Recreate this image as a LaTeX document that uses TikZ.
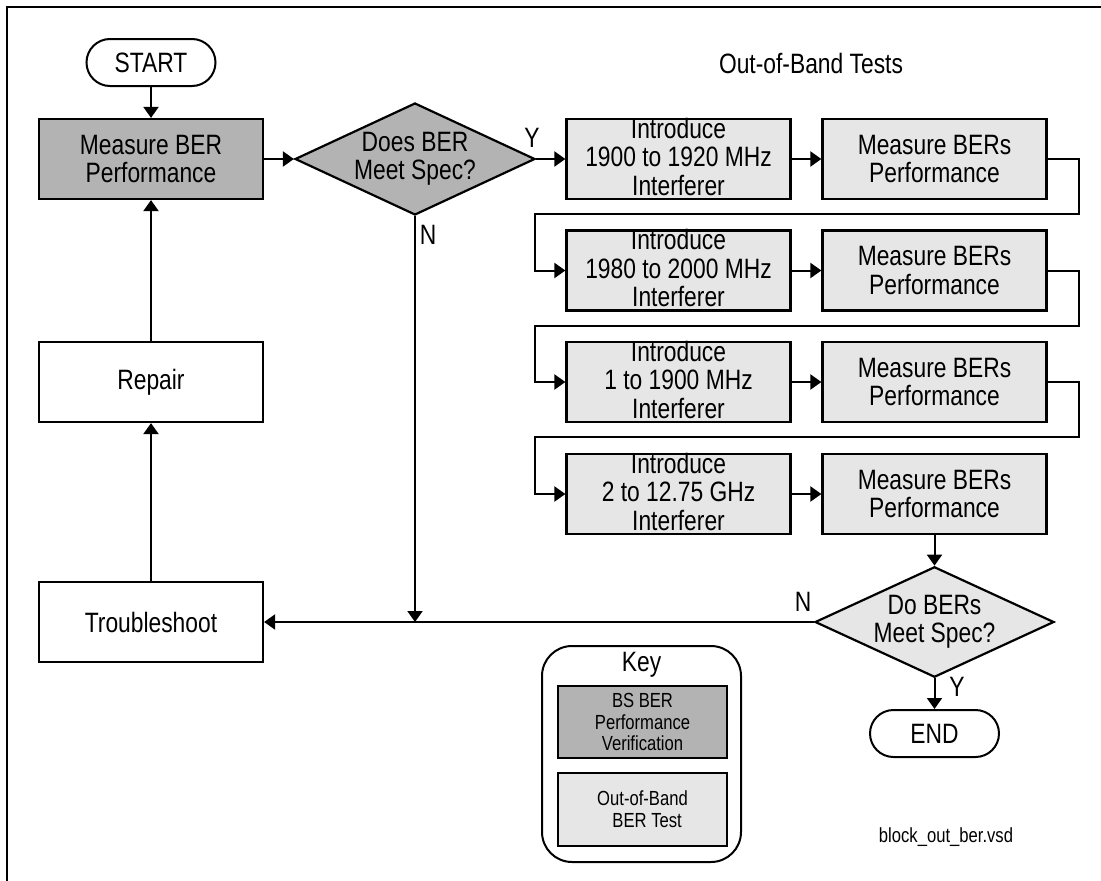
\documentclass[tikz,border=0pt]{standalone}
\usepackage{fontspec}
\setmainfont{Liberation Sans}[FakeStretch=0.815]
\usetikzlibrary{arrows.meta,shapes.geometric,shapes.misc}
\definecolor{darkfill}{RGB}{179,179,179}
\definecolor{lightfill}{RGB}{230,230,230}
\begin{document}
\begin{tikzpicture}[x=1pt,y=-1pt,
  every node/.style={font=\fontsize{28}{28.5}\selectfont, align=center, inner sep=0pt},
  box/.style={draw, line width=2.2pt, minimum width=224pt, minimum height=80pt},
  darkbox/.style={box, fill=darkfill},
  lightbox/.style={box, fill=lightfill, minimum width=224pt},
  plainbox/.style={box, fill=white},
  term/.style={draw, line width=2pt, rounded rectangle, minimum width=129pt, minimum height=47pt},
  dec/.style={draw, line width=2.2pt, diamond, minimum width=240pt, minimum height=112pt, aspect=2.14},
  conn/.style={line width=2pt},
  arr/.style={conn, -{Triangle[length=11pt,width=15pt]}},
  small/.style={font=\fontsize{20.4}{21.7}\selectfont},
  keybox/.style={draw, line width=2pt, minimum width=169pt, minimum height=72pt, small},
]
\useasboundingbox (0,0) rectangle (1101,881);
% frame
\draw[conn] (7,881) -- (7,7) -- (1101,7);

% left column
\node[term] (start) at (151,62.5) {START};
\node[darkbox] (mb) at (151,159) {Measure BER\\Performance};
\node[dec, fill=darkfill] (d1) at (415,159) {Does BER\\Meet Spec?};
\node[plainbox] (rep) at (151,382) {Repair};
\node[plainbox] (tro) at (151,622) {Troubleshoot};

% title
\node (title) at (811,63) {Out-of-Band Tests};

% out-of-band rows
\node[lightbox] (i1) at (678.5,159) {};
\node (i1t) at (678.5,156.5) {Introduce\\1900 to 1920 MHz\\Interferer};
\node[lightbox] (m1) at (934.5,159) {Measure BERs\\Performance};

\node[lightbox] (i2) at (678.5,270.5) {};
\node (i2t) at (678.5,268) {Introduce\\1980 to 2000 MHz\\Interferer};
\node[lightbox] (m2) at (934.5,270.5) {Measure BERs\\Performance};

\node[lightbox] (i3) at (678.5,382) {};
\node (i3t) at (678.5,379.5) {Introduce\\1 to 1900 MHz\\Interferer};
\node[lightbox] (m3) at (934.5,382) {Measure BERs\\Performance};

\node[lightbox] (i4) at (678.5,494) {};
\node (i4t) at (678.5,491.5) {Introduce\\2 to 12.75 GHz\\Interferer};
\node[lightbox] (m4) at (934.5,494) {Measure BERs\\Performance};

\node[dec, fill=lightfill, minimum width=239pt, minimum height=110pt] (d2) at (934.5,622) {Do BERs\\Meet Spec?};
\node[term] (end) at (934.5,733.5) {END};

% labels
\node (ly1) at (532,138) {Y};
\node (ln1) at (428,235) {N};
\node (ln2) at (803,602) {N};
\node (ly2) at (957,687) {Y};

% key
\node[draw, line width=2pt, rounded corners=30pt, minimum width=199pt, minimum height=216pt] (key) at (641.5,754) {};
\node (keyt) at (641.5,665) {Key};
\node[keybox, fill=darkfill] (k1) at (642.5,722) {BS BER\\Performance\\Verification};
\node[keybox, fill=lightfill, minimum height=73pt] (k2) at (642.5,809.5) {Out-of-Band\\\ \ BER Test};
\node[small] (file) at (946,837) {block\_out\_ber.vsd};

% connectors
\draw[arr] (start.south) -- (mb.north);
\draw[arr] (mb.east) -- (d1.west);
\draw[arr] (d1.east) -- (i1.west);
\draw[arr] (i1.east) -- (m1.west);
\draw[arr] (i2.east) -- (m2.west);
\draw[arr] (i3.east) -- (m3.west);
\draw[arr] (i4.east) -- (m4.west);
\draw[arr] (m1.east) -- ++(31,0) |- (535,214) |- (i2.west);
\draw[arr] (m2.east) -- ++(31,0) |- (535,325.5) |- (i3.west);
\draw[arr] (m3.east) -- ++(31,0) |- (535,437) |- (i4.west);
\draw[arr] (m4.south) -- (d2.north);
\draw[arr] (d2.south) -- (end.north);
\coordinate (jn) at (415,622);
\draw[arr] (d1.south) -- (jn);
\draw[arr] (d2.west) -- (tro.east);
\draw[arr] (tro.north) -- (rep.south);
\draw[arr] (rep.north) -- (mb.south);
\end{tikzpicture}
\end{document}
